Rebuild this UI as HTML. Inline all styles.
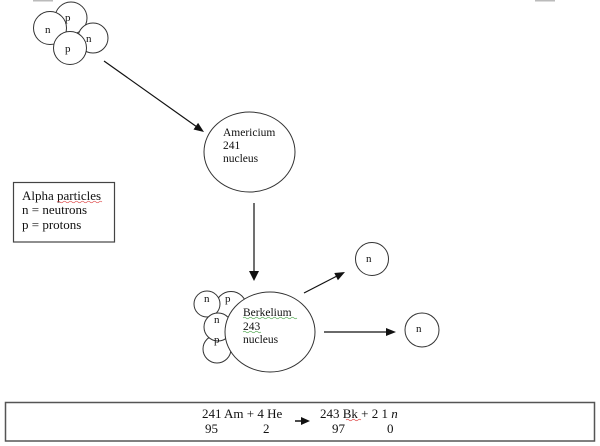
<!DOCTYPE html>
<html>
<head>
<meta charset="utf-8">
<style>
  html, body { margin: 0; padding: 0; background: #fff; }
  svg { display: block; }
  text { font-family: "Liberation Serif", serif; fill: #111; }
</style>
</head>
<body>
<svg width="600" height="446" viewBox="0 0 600 446" xmlns="http://www.w3.org/2000/svg">
  <rect width="600" height="446" fill="#fff"/>
  <!-- faint marks at top -->
  <rect x="33" y="0" width="20" height="1.5" fill="#bbb"/>
  <rect x="535" y="0" width="20" height="1.5" fill="#bbb"/>

  <g stroke="#333" stroke-width="1" fill="#fff">
    <!-- top alpha cluster -->
    <circle cx="71" cy="18" r="16"/>
    <circle cx="93" cy="38" r="15"/>
    <circle cx="50" cy="28" r="16.5"/>
    <circle cx="70" cy="48" r="16.5"/>
  </g>
  <g font-size="11">
    <text x="45" y="33">n</text>
    <text x="65" y="21">p</text>
    <text x="86" y="42">n</text>
    <text x="65" y="52">p</text>
  </g>

  <!-- arrow 1 -->
  <line x1="104" y1="61" x2="197" y2="127" stroke="#111" stroke-width="1.2"/>
  <polygon points="204,132 193.5,129.5 198.1,122.9" fill="#111"/>

  <!-- Americium -->
  <ellipse cx="249.5" cy="152" rx="45.5" ry="40" fill="#fff" stroke="#333" stroke-width="1"/>
  <g font-size="11.5">
    <text x="223" y="136">Americium</text>
    <text x="223" y="149">241</text>
    <text x="223" y="162">nucleus</text>
  </g>

  <!-- vertical arrow -->
  <line x1="254" y1="203" x2="254" y2="272" stroke="#111" stroke-width="1.2"/>
  <polygon points="254,281 249,271 259,271" fill="#111"/>

  <!-- legend -->
  <rect x="13.5" y="182.5" width="101" height="59.5" fill="#fff" stroke="#444" stroke-width="1.2"/>
  <g font-size="13">
    <text x="22" y="200">Alpha particles</text>
    <text x="22" y="214">n = neutrons</text>
    <text x="22" y="229">p = protons</text>
  </g>
  <path d="M57 202 q1.5 -1.5 3 0 t3 0 t3 0 t3 0 t3 0 t3 0 t3 0 t3 0 t3 0 t3 0 t3 0 t3 0 t3 0 t3 0 t3 0" stroke="#d44" stroke-width="0.6" fill="none"/>

  <!-- bottom cluster -->
  <g stroke="#333" stroke-width="1" fill="#fff">
    <circle cx="231" cy="307" r="15.5"/>
    <circle cx="207" cy="304" r="13"/>
    <circle cx="217" cy="349" r="14"/>
    <circle cx="218" cy="327" r="14"/>
    <ellipse cx="270" cy="332" rx="45" ry="40"/>
  </g>
  <g font-size="11">
    <text x="204" y="302">n</text>
    <text x="225" y="302">p</text>
    <text x="214" y="323">n</text>
    <text x="214" y="343">p</text>
  </g>
  <g font-size="11.5">
    <text x="243" y="316">Berkelium</text>
    <text x="243" y="330">243</text>
    <text x="243" y="343">nucleus</text>
  </g>
  <path d="M243 318 q1.5 -1.5 3 0 t3 0 t3 0 t3 0 t3 0 t3 0 t3 0 t3 0 t3 0 t3 0 t3 0 t3 0 t3 0 t3 0 t3 0 t3 0 t3 0 t3 0 M243 332 q1.5 -1.5 3 0 t3 0 t3 0 t3 0 t3 0 t3 0" stroke="#5a5" stroke-width="0.6" fill="none"/>

  <!-- neutron arrows -->
  <line x1="304" y1="293" x2="337" y2="276" stroke="#111" stroke-width="1.2"/>
  <polygon points="345,272 334.3,273.0 337.9,280.2" fill="#111"/>
  <line x1="324" y1="332" x2="387" y2="332" stroke="#111" stroke-width="1.2"/>
  <polygon points="396,332 386,328 386,336" fill="#111"/>

  <g stroke="#333" stroke-width="1" fill="#fff">
    <circle cx="372" cy="259" r="16.5"/>
    <circle cx="422" cy="330" r="17"/>
  </g>
  <g font-size="11">
    <text x="366" y="262">n</text>
    <text x="416" y="332">n</text>
  </g>

  <!-- equation box -->
  <rect x="5.5" y="402.5" width="589" height="38.5" fill="#fff" stroke="#555" stroke-width="1.5"/>
  <g font-size="13">
    <text x="202" y="418">241 Am + 4 He</text>
    <text x="320" y="418">243 Bk + 2 1 <tspan font-style="italic">n</tspan></text>
    <text x="205" y="433">95</text>
    <text x="263" y="433">2</text>
    <text x="332" y="433">97</text>
    <text x="387" y="433">0</text>
  </g>
  <path d="M346 420 q1.5 -1.5 3 0 t3 0 t3 0 t3 0 t3 0" stroke="#d44" stroke-width="0.6" fill="none"/>
  <line x1="295" y1="421" x2="302" y2="421" stroke="#111" stroke-width="1.5"/>
  <polygon points="310,421 301,417 301,425" fill="#111"/>
</svg>
</body>
</html>
